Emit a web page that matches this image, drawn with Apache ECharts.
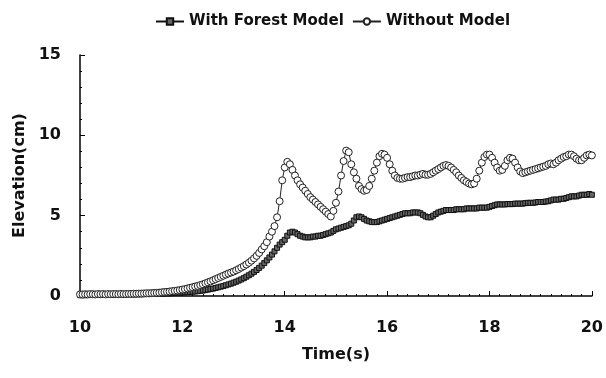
<!DOCTYPE html>
<html>
<head>
<meta charset="utf-8">
<script src="https://cdn.jsdelivr.net/npm/echarts@6/dist/echarts.min.js"></script>
<style>html,body{margin:0;padding:0;background:#fff}#c{width:606px;height:378px}</style>
</head>
<body>
<div id="c"></div>
<script>
// time samples every 0.05 s from 10 to 20
var times = [];
for (var i = 0; i <= 200; i++) { times.push(+(10 + i * 0.05).toFixed(2)); }

var withForest = [
  0.05,0.05,0.05,0.06,0.06,0.06,0.06,0.07,0.07,0.07,0.07,0.08,0.08,0.08,0.08,0.09,0.09,0.09,0.10,0.10,0.10,
  0.10,0.11,0.11,0.11,0.12,0.12,0.13,0.13,0.14,0.14,0.15,0.15,0.16,0.17,0.17,0.18,0.19,0.20,0.21,0.22,
  0.23,0.24,0.25,0.27,0.28,0.30,0.32,0.34,0.37,0.40,0.43,0.46,0.50,0.54,0.58,0.62,0.67,0.72,0.77,0.83,
  0.89,0.96,1.03,1.11,1.20,1.29,1.39,1.50,1.62,1.75,1.89,2.05,2.22,2.40,2.58,2.78,3.00,3.20,3.35,3.50,
  3.75,3.95,4.00,3.95,3.85,3.75,3.70,3.65,3.65,3.65,3.70,3.70,3.75,3.75,3.80,3.85,3.90,3.95,4.05,4.15,
  4.20,4.25,4.30,4.35,4.40,4.50,4.70,4.90,4.95,4.90,4.80,4.70,4.65,4.60,4.60,4.60,4.65,4.70,4.75,4.80,
  4.85,4.90,4.95,5.00,5.05,5.10,5.15,5.15,5.15,5.20,5.20,5.20,5.15,5.05,4.95,4.90,4.90,5.00,5.10,5.20,
  5.25,5.30,5.35,5.35,5.35,5.35,5.40,5.40,5.40,5.40,5.45,5.45,5.45,5.45,5.45,5.50,5.50,5.50,5.50,5.55,
  5.60,5.65,5.70,5.70,5.70,5.70,5.72,5.72,5.72,5.75,5.75,5.75,5.75,5.78,5.80,5.80,5.80,5.82,5.85,5.85,
  5.85,5.88,5.90,5.95,6.00,6.00,6.00,6.05,6.05,6.10,6.15,6.20,6.20,6.20,6.25,6.30,6.30,6.30,6.35,6.30
];

var withoutModel = [
  0.10,0.10,0.11,0.10,0.12,0.11,0.10,0.12,0.11,0.12,0.10,0.12,0.11,0.12,0.12,0.11,0.13,0.12,0.12,0.13,0.13,
  0.14,0.14,0.15,0.15,0.16,0.17,0.17,0.18,0.19,0.20,0.21,0.23,0.25,0.26,0.28,0.30,0.32,0.34,0.37,0.40,
  0.43,0.47,0.51,0.55,0.59,0.63,0.68,0.73,0.79,0.85,0.91,0.98,1.05,1.12,1.19,1.26,1.33,1.40,1.46,1.52,
  1.60,1.68,1.77,1.86,1.96,2.07,2.20,2.34,2.50,2.68,2.90,3.10,3.35,3.70,4.00,4.35,4.90,5.90,7.20,8.00,
  8.35,8.20,7.85,7.50,7.20,6.95,6.75,6.55,6.35,6.15,6.00,5.85,5.70,5.55,5.40,5.25,5.10,4.95,5.30,5.80,
  6.50,7.50,8.40,9.05,8.95,8.20,7.70,7.30,6.85,6.65,6.55,6.60,6.85,7.30,7.80,8.30,8.70,8.85,8.80,8.60,
  8.20,7.80,7.50,7.35,7.30,7.30,7.35,7.40,7.40,7.45,7.50,7.50,7.55,7.60,7.55,7.55,7.60,7.70,7.80,7.90,
  8.00,8.10,8.15,8.10,8.00,7.85,7.70,7.50,7.35,7.20,7.10,7.00,6.95,7.00,7.30,7.80,8.30,8.65,8.80,8.80,
  8.60,8.30,8.00,7.80,7.85,8.10,8.45,8.60,8.55,8.30,8.00,7.75,7.65,7.70,7.75,7.80,7.85,7.90,7.95,8.00,
  8.05,8.10,8.20,8.25,8.20,8.30,8.45,8.55,8.65,8.70,8.80,8.80,8.70,8.55,8.45,8.45,8.60,8.75,8.80,8.75
];

var xTicks = [10, 12, 14, 16, 18, 20];
var yTicks = [0, 5, 10, 15];

function pairs(xs, ys) { return xs.map(function (x, i) { return [x, ys[i]]; }); }

var font = 'DejaVu Sans, sans-serif';
var chart = echarts.init(document.getElementById('c'), null, { renderer: 'canvas' });
chart.setOption({
  animation: false,
  backgroundColor: '#fff',
  legend: {
    top: 9, left: 150,
    itemWidth: 28, itemHeight: 8, itemGap: 8,
    textStyle: { fontFamily: font, fontWeight: 'bold', fontSize: 15, color: '#111' },
    data: ['With Forest Model', 'Without Model']
  },
  grid: { left: 80, right: 10, top: 55, bottom: 82, containLabel: false },
  xAxis: {
    type: 'value', min: xTicks[0], max: xTicks[xTicks.length - 1], interval: 2,
    name: 'Time(s)', nameLocation: 'middle', nameGap: 51,
    nameTextStyle: { fontFamily: font, fontWeight: 'bold', fontSize: 16, color: '#111' },
    axisLine: { lineStyle: { color: '#000', width: 1.5 } },
    axisTick: { inside: true, length: 5, lineStyle: { color: '#000' } },
    minorTick: { show: true, splitNumber: 10, length: 2, lineStyle: { color: '#000' } },
    splitLine: { show: false },
    axisLabel: { margin: 24, fontFamily: font, fontWeight: 'bold', fontSize: 16, color: '#111' }
  },
  yAxis: {
    type: 'value', min: yTicks[0], max: yTicks[yTicks.length - 1], interval: 5,
    name: 'Elevation(cm)', nameLocation: 'middle', nameGap: 52, nameRotate: 90,
    nameTextStyle: { fontFamily: font, fontWeight: 'bold', fontSize: 16, color: '#111' },
    axisLine: { show: true, lineStyle: { color: '#000', width: 1.5 } },
    axisTick: { show: true, inside: true, length: 5, lineStyle: { color: '#000' } },
    minorTick: { show: true, splitNumber: 5, length: 2, lineStyle: { color: '#000' } },
    splitLine: { show: false },
    axisLabel: { margin: 19, fontFamily: font, fontWeight: 'bold', fontSize: 16, color: '#111' }
  },
  series: [
    {
      name: 'With Forest Model', type: 'line',
      data: pairs(times, withForest),
      symbol: 'rect', symbolSize: 5, showAllSymbol: true,
      lineStyle: { color: '#111', width: 2 },
      itemStyle: { color: '#666', borderColor: '#111', borderWidth: 1 }
    },
    {
      name: 'Without Model', type: 'line',
      data: pairs(times, withoutModel),
      symbol: 'circle', symbolSize: 7, showAllSymbol: true,
      lineStyle: { color: '#222', width: 1 },
      itemStyle: { color: '#fff', borderColor: '#222', borderWidth: 1 }
    }
  ]
});
</script>
</body>
</html>
